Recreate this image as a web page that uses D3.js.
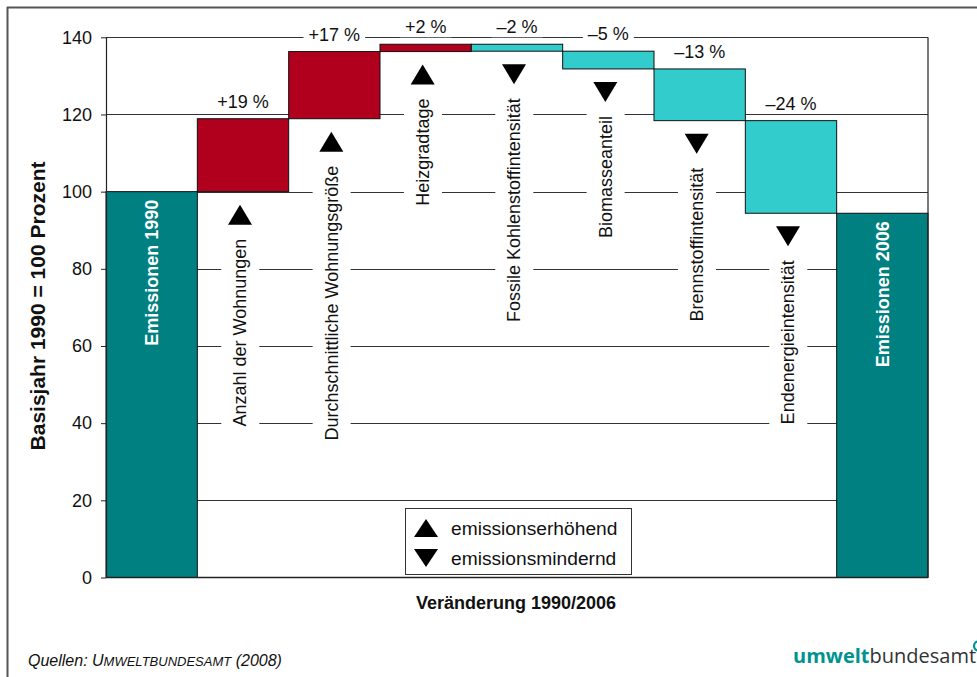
<!DOCTYPE html>
<html><head><meta charset="utf-8">
<script src="https://cdn.jsdelivr.net/npm/d3@7"></script>
<style>body{margin:0;background:#fff}svg{display:block}text{font-family:"Liberation Sans",Arial,sans-serif}</style>
</head><body><svg id="c" width="977" height="677"></svg>
<script>
const categories = ["Emissionen 1990","Anzahl der Wohnungen","Durchschnittliche Wohnungsgröße","Heizgradtage","Fossile Kohlenstoffintensität","Biomasseanteil","Brennstoffintensität","Endenergieintensität","Emissionen 2006"];
const barStart = [0, 100, 118.9, 136.3, 138.2, 136.4, 131.8, 118.4, 0];
const barEnd   = [100, 118.9, 136.3, 138.2, 136.4, 131.8, 118.4, 94.4, 94.4];
const changeLabels = ["", "+19 %", "+17 %", "+2 %", "–2 %", "–5 %", "–13 %", "–24 %", ""];
const kinds = ["total","up","up","up","down","down","down","down","total"];
const yTicks = [0,20,40,60,80,100,120,140];
const legendItems = [{kind:"up",label:"emissionserhöhend"},{kind:"down",label:"emissionsmindernd"}];

const colors = {total:"#008080", up:"#B0001E", down:"#33CCCC"};
const svg = d3.select("#c");

// outer frame (top + left)
svg.append("line").attr("x1",7).attr("y1",7.5).attr("x2",977).attr("y2",7.5).attr("stroke","#555").attr("stroke-width",2);
svg.append("line").attr("x1",7.5).attr("y1",7).attr("x2",7.5).attr("y2",677).attr("stroke","#555").attr("stroke-width",2);

const x = d3.scaleBand().domain(categories).range([106,928]).padding(0);
const y = d3.scaleLinear().domain([0,140]).range([577.5,37.3]);

// gridlines
svg.append("g").selectAll("line").data(yTicks.filter(d=>d>0)).join("line")
  .attr("x1",106).attr("x2",928).attr("y1",d=>Math.round(y(d))+0.5).attr("y2",d=>Math.round(y(d))+0.5)
  .attr("stroke","#333").attr("stroke-width",1.1);

const data = categories.map((c,i)=>({c,i,s:barStart[i],e:barEnd[i],k:kinds[i],lab:changeLabels[i]}));

// bars
svg.append("g").selectAll("rect").data(data).join("rect")
  .attr("x",d=>x(d.c)).attr("width",x.bandwidth())
  .attr("y",d=>y(Math.max(d.s,d.e))).attr("height",d=>Math.abs(y(d.s)-y(d.e)))
  .attr("fill",d=>colors[d.k]).attr("stroke","#111").attr("stroke-width",1);

// right border
svg.append("line").attr("x1",928).attr("x2",928).attr("y1",y(140)).attr("y2",y(0)).attr("stroke","#222").attr("stroke-width",1.2);

// y axis
const yAxis = svg.append("g").attr("transform","translate(106,0)")
  .call(d3.axisLeft(y).tickValues(yTicks).tickSize(5).tickSizeOuter(0).tickPadding(9));
yAxis.select(".domain").attr("stroke","#222").attr("stroke-width",1.2);
yAxis.selectAll(".tick line").attr("stroke","#222");
yAxis.selectAll(".tick text").attr("font-size",18).attr("fill","#111").attr("font-family","Liberation Sans, Arial, sans-serif");
// bottom axis
svg.append("line").attr("x1",106).attr("x2",928).attr("y1",y(0)).attr("y2",y(0)).attr("stroke","#222").attr("stroke-width",1.5);

const tri = (cx,cy,w,h,up) => up
  ? `M${cx-w/2},${cy+h/2}L${cx+w/2},${cy+h/2}L${cx},${cy-h/2}Z`
  : `M${cx-w/2},${cy-h/2}L${cx+w/2},${cy-h/2}L${cx},${cy+h/2}Z`;

const changes = data.filter(d=>d.k!=="total");
const lg = svg.append("g");
changes.forEach(d=>{
  const cx = x(d.c) + x.bandwidth()/2;
  const top = y(Math.max(d.s,d.e));
  const bottom = y(Math.min(d.s,d.e));
  // percentage label
  const pt = lg.append("text").attr("x",cx).attr("y",top-11).attr("text-anchor","middle")
    .attr("font-size",18).attr("fill","#111").text(d.lab);
  const bb = pt.node().getBBox();
  lg.insert("rect","text").attr("x",bb.x-5).attr("y",bb.y).attr("width",bb.width+10).attr("height",bb.height).attr("fill","#fff");
  // triangle
  const tcx = cx-3, tTop = bottom+13;
  lg.append("path").attr("d",tri(tcx,tTop+10,24,20,d.k==="up")).attr("fill","#000");
  // rotated label
  const ty = tTop+20+14;
  const g = lg.append("g").attr("transform",`translate(${tcx},${ty}) rotate(-90)`);
  const t = g.append("text").attr("text-anchor","end").attr("dy","0.35em").attr("font-size",18).attr("fill","#111").text(d.c);
  const tb = t.node().getBBox();
  g.insert("rect","text").attr("x",tb.x-4).attr("y",tb.y-9).attr("width",tb.width+8).attr("height",tb.height+18).attr("fill","#fff");
});

// total bar labels
data.filter(d=>d.k==="total").forEach(d=>{
  const cx = x(d.c)+x.bandwidth()/2;
  svg.append("text").attr("transform",`translate(${cx},${y(d.e)+8}) rotate(-90)`)
    .attr("text-anchor","end").attr("dy","0.35em").attr("font-size",18).attr("font-weight","bold")
    .attr("fill","#fff").text(d.c);
});

// legend
const leg = svg.append("g");
leg.append("rect").attr("x",405.5).attr("y",508.5).attr("width",226).attr("height",66).attr("fill","#fff").attr("stroke","#333").attr("stroke-width",1);
legendItems.forEach((it,i)=>{
  const cy = 528 + i*30;
  leg.append("path").attr("d",tri(426,cy,24,18,it.kind==="up")).attr("fill","#000");
  leg.append("text").attr("x",451).attr("y",cy+6.5).attr("font-size",19.2).attr("fill","#111").text(it.label);
});

// axis titles
svg.append("text").attr("transform","translate(38,306) rotate(-90)").attr("text-anchor","middle").attr("dy","0.35em")
  .attr("font-size",21).attr("font-weight","bold").attr("fill","#111").text("Basisjahr 1990 = 100 Prozent");
svg.append("text").attr("x",516).attr("y",609).attr("text-anchor","middle")
  .attr("font-size",18).attr("font-weight","bold").attr("fill","#111").text("Veränderung 1990/2006");

// source
const src = svg.append("text").attr("x",28).attr("y",666).attr("font-size",16).attr("font-style","italic").attr("fill","#111");
src.append("tspan").text("Quellen: U");
src.append("tspan").attr("font-size",13).text("MWELTBUNDESAMT");
src.append("tspan").text(" (2008)");

// logo
const logo = svg.append("text").attr("x",793).attr("y",663).attr("font-size",20).style("font-family","'Open Sans',sans-serif");
logo.append("tspan").attr("font-weight","bold").attr("fill","#009390").text("umwelt");
logo.append("tspan").attr("fill","#333").text("bundesamt");
svg.append("circle").attr("cx",978.5).attr("cy",646).attr("r",4.5).attr("fill","none").attr("stroke","#009390").attr("stroke-width",2.2);
</script></body></html>
